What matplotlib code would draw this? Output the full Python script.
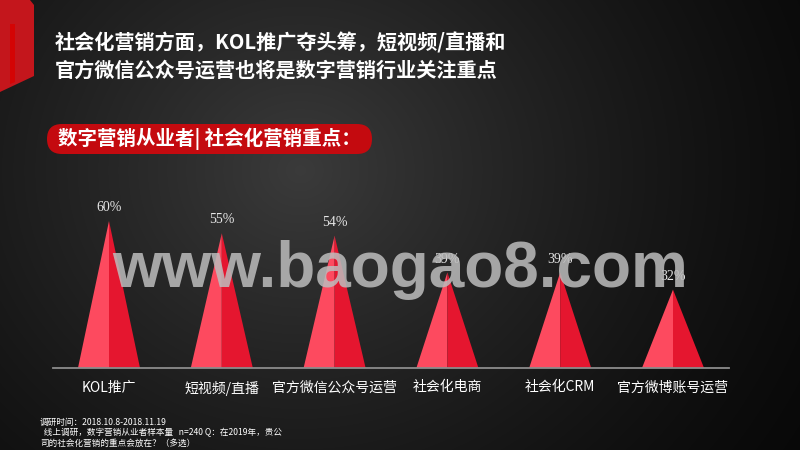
import numpy as np
import matplotlib.pyplot as plt
from matplotlib.patches import Polygon, FancyBboxPatch

plt.rcParams["font.family"] = ["Noto Sans CJK SC", "DejaVu Sans"]

# --------------------------------------------------------------------------- #
# Data
# --------------------------------------------------------------------------- #
categories = ["KOL推广", "短视频/直播", "官方微信公众号运营", "社会化电商", "社会化CRM", "官方微博账号运营"]
shares = [60, 55, 54, 39, 39, 32]   # %

title_lines = ["社会化营销方面，KOL推广夺头筹，短视频/直播和",
               "官方微信公众号运营也将是数字营销行业关注重点"]
subtitle = "数字营销从业者| 社会化营销重点："
notes = ["调研时间：2018.10.8-2018.11.19",
         "  线上调研，数字营销从业者样本量   n=240 Q：在2019年，贵公",
         "司的社会化营销的重点会放在？（多选）"]
watermark = "www.baogao8.com"

LIGHT_RED = "#fd4a5f"
DARK_RED = "#e5162f"

W, H = 800, 450
fig = plt.figure(figsize=(8, 4.5), dpi=100)

# --------------------------------------------------------------------------- #
# Background (pixel coordinates)
# --------------------------------------------------------------------------- #
bg = fig.add_axes([0, 0, 1, 1])
bg.set_xlim(0, W)
bg.set_ylim(H, 0)
bg.axis("off")

yy, xx = np.mgrid[0:H, 0:W]
r = np.hypot(xx - 300, (yy - 170) / 0.9)
shade = np.clip(1 - r / 620, 0, 1) ** 1.4
level = 0.03 + 0.20 * shade
bg.imshow(np.dstack([level] * 3), extent=(0, W, H, 0), aspect="auto", zorder=0)

# red corner accent
bg.add_patch(Polygon([(0, 0), (30, 0), (34, 5), (34, 76), (0, 92)], closed=True,
                     facecolor="#c4161c", edgecolor="none", zorder=1))
bg.add_patch(Polygon([(10, 24), (15, 24), (15, 82), (10, 84)], closed=True,
                     facecolor="#d40404", edgecolor="none", zorder=2))

# title
for i, line in enumerate(title_lines):
    bg.text(55, 43 + i * 27, line, color="white", fontsize=14.5, fontweight="bold",
            va="center", ha="left", zorder=3)

# subtitle pill
bg.add_patch(FancyBboxPatch((47, 124), 325, 30, boxstyle="round,pad=0,rounding_size=15",
                            facecolor="#c40a0f", edgecolor="none", zorder=2))
bg.text(58, 139, subtitle, color="white", fontsize=14, fontweight="bold",
        va="center", ha="left", zorder=3)

# footnote
for i, line in enumerate(notes):
    bg.text(40, 422 + i * 10.5, line, color="white", fontsize=6.2,
            va="center", ha="left", zorder=3)

# --------------------------------------------------------------------------- #
# Chart
# --------------------------------------------------------------------------- #
ax = fig.add_axes([52.6 / W, (H - 368) / H, 676.8 / W, 171.5 / H])
ax.patch.set_alpha(0)
ax.set_xlim(-0.5, len(categories) - 0.5)
ax.set_ylim(0, 70)

half = 0.275
for i, v in enumerate(shares):
    ax.add_patch(Polygon([(i - half, 0), (i, v), (i, 0)], closed=True,
                         facecolor=LIGHT_RED, edgecolor="none"))
    ax.add_patch(Polygon([(i, 0), (i, v), (i + half, 0)], closed=True,
                         facecolor=DARK_RED, edgecolor="none"))
    ax.annotate(f"{v}%", (i, v), xytext=(0, 5), textcoords="offset points",
                ha="center", va="bottom", color="#e6e6e6", fontsize=10,
                family="Liberation Serif")

for side in ["top", "right", "left"]:
    ax.spines[side].set_visible(False)
ax.spines["bottom"].set_color("#8c8c8c")
ax.spines["bottom"].set_linewidth(1.3)
ax.set_yticks([])
ax.set_xticks(range(len(categories)))
ax.set_xticklabels(categories, color="white", fontsize=10)
ax.tick_params(axis="x", length=0, pad=9)

# watermark, on top of everything
wm = fig.add_axes([0, 0, 1, 1])
wm.set_xlim(0, W)
wm.set_ylim(H, 0)
wm.axis("off")
wm.patch.set_alpha(0)
wm.text(400, 287, watermark, color="#bdbdbd", alpha=0.85, fontsize=46,
        fontweight="bold", family="Liberation Sans", ha="center", va="baseline")

fig.savefig("out.png", dpi=100)
